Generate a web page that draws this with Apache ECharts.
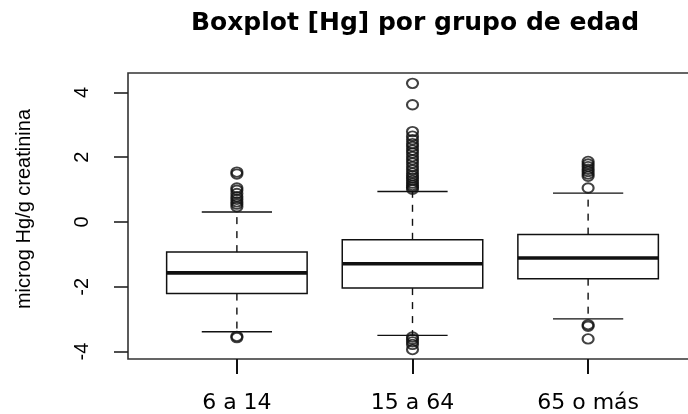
<!DOCTYPE html>
<html>
<head>
<meta charset="utf-8">
<script src="https://cdn.jsdelivr.net/npm/echarts@6/dist/echarts.min.js"></script>
<style>
html,body{margin:0;padding:0;background:#fff;}
#chart{width:688px;height:414px;}
</style>
</head>
<body>
<div id="chart"></div>
<script>
// ---- data ----
const categories = ['6 a 14', '15 a 64', '65 o más'];
// [lower whisker, Q1, median, Q3, upper whisker]
const box6a14   = [-3.39, -2.21, -1.57, -0.93, 0.31];
const box15a64  = [-3.50, -2.04, -1.29, -0.55, 0.94];
const box65mas  = [-2.99, -1.75, -1.11, -0.39, 0.89];
const out6a14   = [1.54, 1.48, 1.05, 0.98, 0.88, 0.78, 0.70, 0.62, 0.55, 0.47, -3.53, -3.57];
const out15a64  = [4.28, 3.62, 2.79, 2.65, 2.54, 2.42, 2.33, 2.22, 2.13, 2.02, 1.92, 1.82, 1.71, 1.61, 1.51, 1.43, 1.36, 1.28, 1.20, 1.13, 1.07, 1.01,
                   -3.55, -3.62, -3.70, -3.78, -3.94];
const out65mas  = [1.87, 1.79, 1.71, 1.63, 1.56, 1.48, 1.41, 1.05, -3.17, -3.22, -3.61];
const yTicks = [-4, -2, 0, 2, 4];
const xTicks = [1, 2, 3];
const Y_MIN = -4.23, Y_MAX = 4.6;

const boxes = [box6a14, box15a64, box65mas];
const outs = [out6a14, out15a64, out65mas];
const boxData = boxes.map((b, i) => [xTicks[i]].concat(b));
const outData = [];
outs.forEach((arr, i) => arr.forEach(v => outData.push([xTicks[i], v])));

const chart = echarts.init(document.getElementById('chart'));
const LINE = '#111';

const option = {
  animation: false,
  title: {
    text: 'Boxplot [Hg] por grupo de edad',
    left: 410,
    top: 6,
    textAlign: 'center',
    textStyle: {fontFamily: 'DejaVu Sans', fontWeight: 'bold', fontSize: 25, color: '#000'}
  },
  grid: {
    left: 128, top: 73, width: 569, height: 286,
    show: true, borderColor: '#333', borderWidth: 1.6,
    outerBoundsMode: 'none'
  },
  xAxis: {
    type: 'value', min: 0.38, max: 3.62,
    splitLine: {show: false},
    axisLine: {show: false, onZero: false},
    axisTick: {show: true, length: 15, lineStyle: {color: '#111', width: 2}, customValues: xTicks},
    axisLabel: {
      customValues: xTicks,
      formatter: v => categories[Math.round(v) - 1] || '',
      margin: 33,
      fontFamily: 'DejaVu Sans', fontSize: 22, color: '#000'
    }
  },
  yAxis: {
    type: 'value', min: Y_MIN, max: Y_MAX,
    splitLine: {show: false},
    axisLine: {show: false, onZero: false},
    axisTick: {show: true, length: 14, lineStyle: {color: '#222', width: 1.6}, customValues: yTicks},
    axisLabel: {
      customValues: yTicks,
      rotate: 90,
      margin: 36,
      fontFamily: 'Liberation Sans', fontSize: 20, color: '#000'
    },
    name: 'microg Hg/g creatinina',
    nameLocation: 'middle',
    nameRotate: 90,
    nameGap: 94,
    nameTextStyle: {fontFamily: 'Liberation Sans', fontSize: 20, color: '#000', padding: [0, 0, 0, 14]}
  },
  series: [
    {
      type: 'custom',
      clip: false,
      data: boxData,
      encode: {x: 0, y: [1, 2, 3, 4, 5]},
      renderItem: function (params, api) {
        const x = api.value(0);
        const lo = api.value(1), q1 = api.value(2), md = api.value(3), q3 = api.value(4), hi = api.value(5);
        const halfBox = api.size([0.4, 0])[0];
        const halfCap = api.size([0.2, 0])[0];
        const c = api.coord([x, 0])[0];
        const y = v => api.coord([x, v])[1];
        const ln = (x1, y1, x2, y2, w, dash) => ({
          type: 'line',
          shape: {x1, y1, x2, y2},
          style: {stroke: LINE, lineWidth: w, lineDash: dash || null, lineCap: 'butt'}
        });
        return {
          type: 'group',
          children: [
            ln(c, y(q3), c, y(hi), 1.4, [7, 7]),
            ln(c, y(q1), c, y(lo), 1.4, [7, 7]),
            ln(c - halfCap, y(hi), c + halfCap, y(hi), 1.4),
            ln(c - halfCap, y(lo), c + halfCap, y(lo), 1.4),
            {
              type: 'rect',
              shape: {x: c - halfBox, y: y(q3), width: 2 * halfBox, height: y(q1) - y(q3)},
              style: {fill: 'transparent', stroke: LINE, lineWidth: 1.5}
            },
            ln(c - halfBox, y(md), c + halfBox, y(md), 3.6)
          ]
        };
      },
      z: 2
    },
    {
      type: 'scatter',
      data: outData,
      symbol: 'path://M0,1A1,1 0 1,1 2,1A1,1 0 1,1 0,1Z',
      symbolSize: [11, 9.5],
      itemStyle: {color: 'transparent', borderColor: LINE, borderWidth: 2},
      clip: false,
      z: 3
    }
  ]
};
chart.setOption(option);
</script>
</body>
</html>
